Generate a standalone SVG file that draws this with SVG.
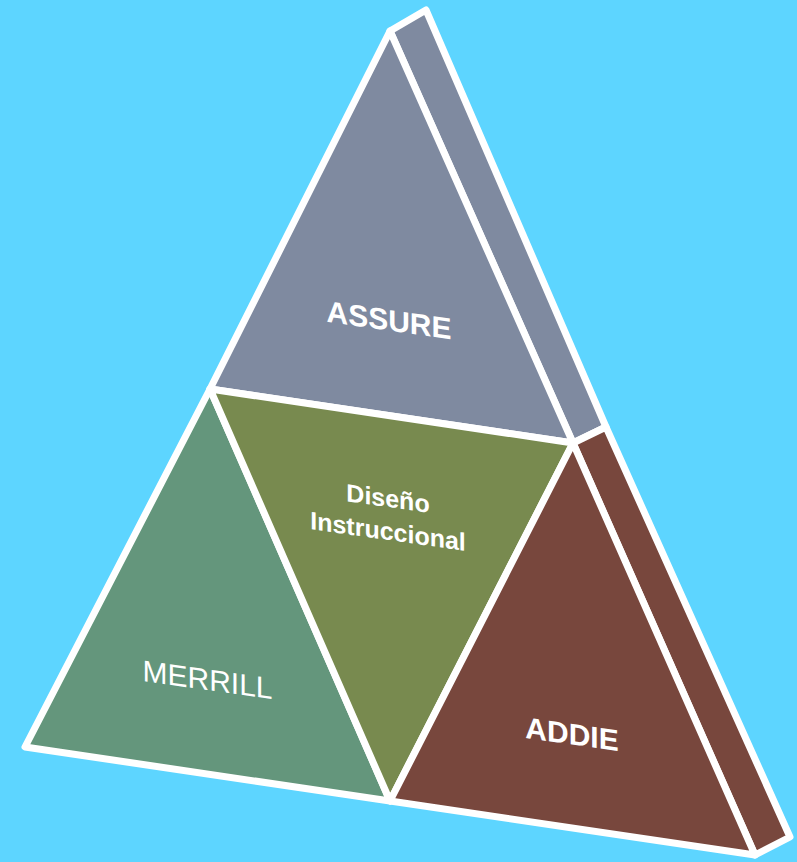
<svg xmlns="http://www.w3.org/2000/svg" width="797" height="862" viewBox="0 0 797 862">
<style>
.f{stroke:#FFFFFF;stroke-width:7;stroke-linejoin:round}
.t{fill:#FFFFFF;font-family:"Liberation Sans",Arial,sans-serif;text-anchor:middle}
</style>
<rect width="797" height="862" fill="#5DD5FF"/>
<g id="assure">
<polygon class="f" fill="#7F8AA0" points="390,31 426,10 606,427 573,443"/>
<polygon class="f" fill="#7F8AA0" points="390,31 210,389 573,443"/>
<g transform="translate(389,320) skewY(8)"><text class="t" x="0" y="10.5" font-size="30" font-weight="bold">ASSURE</text></g>
</g>
<g id="merrill">
<polygon class="f" fill="#64967C" points="210,389 25,747 390,801"/>
<g transform="translate(207.5,679) skewY(8)"><text class="t" x="0" y="11" font-size="30">MERRILL</text></g>
</g>
<g id="diseno">
<polygon class="f" fill="#788A4F" points="210,389 573,443 390,801"/>
<g transform="translate(388,498) skewY(8)"><text class="t" x="0" y="9" font-size="25" font-weight="bold">Diseño</text></g>
<g transform="translate(388,531) skewY(8)"><text class="t" x="0" y="9" font-size="25" font-weight="bold">Instruccional</text></g>
</g>
<g id="addie">
<polygon class="f" fill="#78473D" points="573,443 606,427 790,837 755,855"/>
<polygon class="f" fill="#78473D" points="573,443 390,801 755,855"/>
<g transform="translate(572,733.5) skewY(8)"><text class="t" x="0" y="11" font-size="30" font-weight="bold">ADDIE</text></g>
</g>
<g id="connectors"/>
</svg>
